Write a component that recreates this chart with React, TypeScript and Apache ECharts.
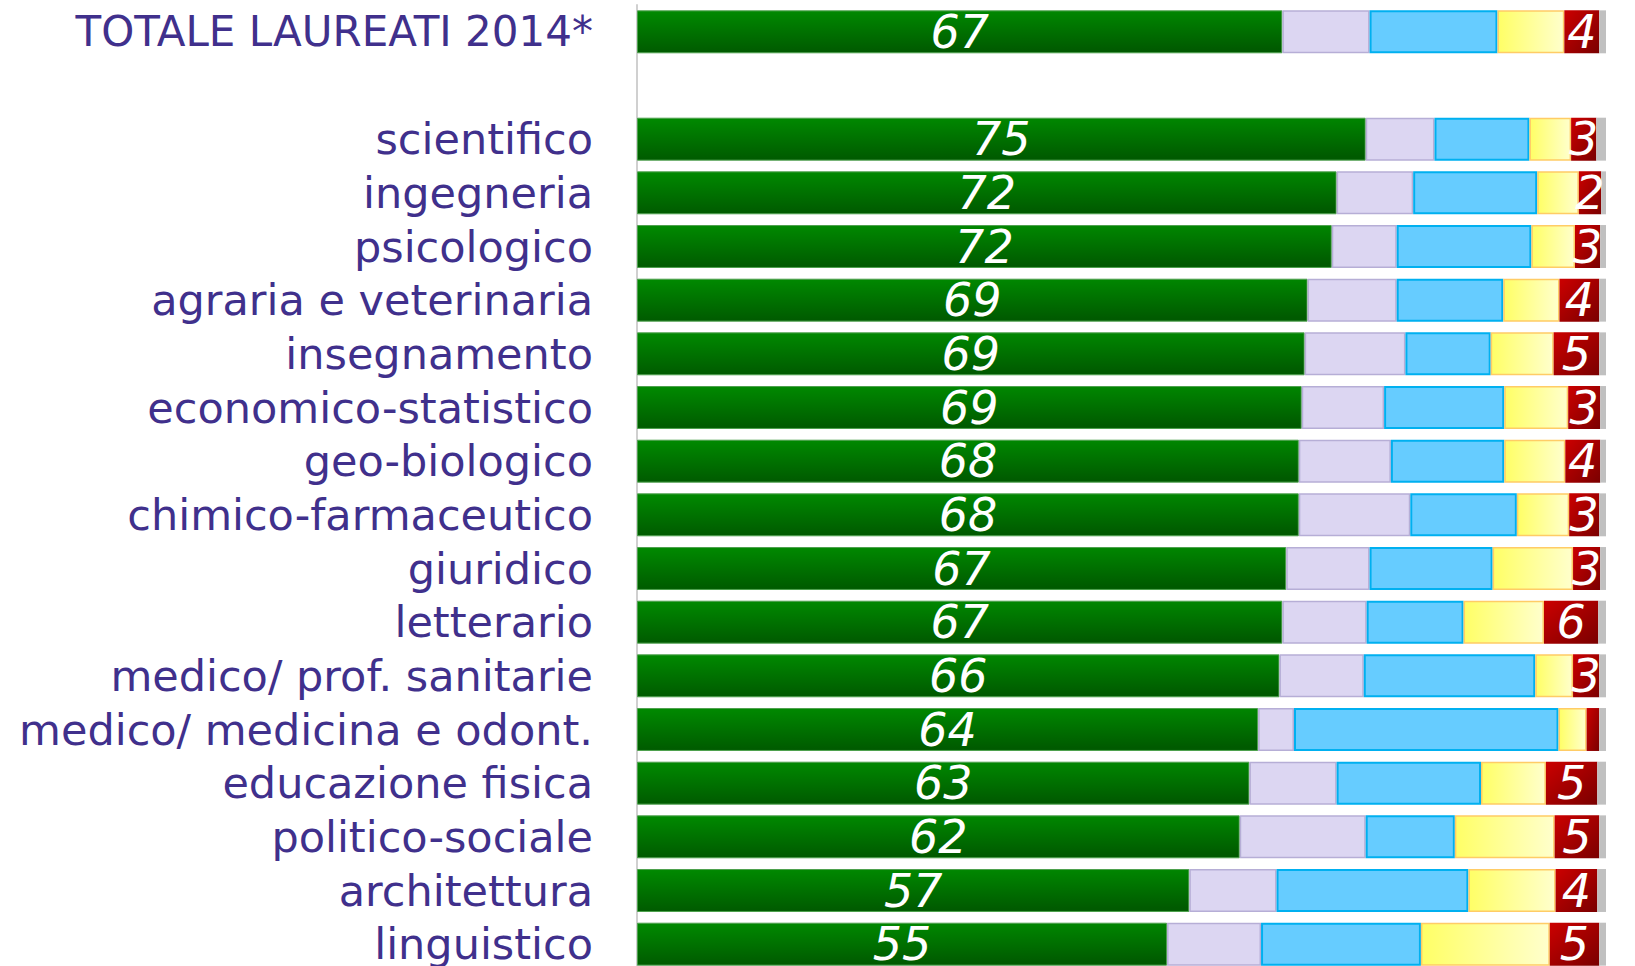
import React, { useEffect, useRef } from 'react';
import * as echarts from 'echarts';

const categories = [
  'TOTALE LAUREATI 2014*',
  '',
  'scientifico',
  'ingegneria',
  'psicologico',
  'agraria e veterinaria',
  'insegnamento',
  'economico-statistico',
  'geo-biologico',
  'chimico-farmaceutico',
  'giuridico',
  'letterario',
  'medico/ prof. sanitarie',
  'medico/ medicina e odont.',
  'educazione fisica',
  'politico-sociale',
  'architettura',
  'linguistico',
];

const seriesNames = [
  'sì, stesso corso stesso ateneo',
  'sì, stesso corso altro ateneo',
  'sì, altro corso stesso ateneo',
  'sì, altro corso altro ateneo',
  'non si iscriverebbero più',
  'non rispondono',
];

const green = [66.6, '-', 75.2, 72.2, 71.7, 69.2, 68.9, 68.6, 68.3, 68.3, 67.0, 66.6, 66.3, 64.1, 63.2, 62.2, 57.0, 54.7];
const lavender = [9.0, '-', 7.1, 7.9, 6.7, 9.2, 10.4, 8.5, 9.5, 11.5, 8.6, 8.7, 8.7, 3.7, 9.0, 13.0, 9.0, 9.7];
const blue = [13.2, '-', 9.8, 12.8, 13.9, 11.0, 8.8, 12.4, 11.7, 11.0, 12.7, 10.0, 17.7, 27.3, 14.9, 9.2, 19.8, 16.5];
const yellow = [6.9, '-', 4.3, 4.3, 4.5, 5.8, 6.5, 6.6, 6.3, 5.4, 8.3, 8.3, 3.9, 2.9, 6.7, 10.3, 9.0, 13.3];
const red = [3.6, '-', 2.6, 2.3, 2.6, 4.1, 4.7, 3.3, 3.6, 3.1, 2.8, 5.6, 2.7, 1.3, 5.3, 4.6, 4.3, 5.1];
const grey = [0.7, '-', 1.0, 0.5, 0.6, 0.7, 0.7, 0.6, 0.6, 0.7, 0.6, 0.8, 0.7, 0.7, 0.9, 0.7, 0.9, 0.7];

export default function App() {
  const ref = useRef<HTMLDivElement>(null);

  useEffect(() => {
    if (!ref.current) return;
    const chart = echarts.init(ref.current, null, { renderer: 'svg' });

    const valueLabel = (minShow: number) => ({
      show: true,
      position: 'inside' as const,
      color: '#ffffff',
      fontStyle: 'italic' as const,
      fontFamily: 'DejaVu Sans',
      fontSize: 46,
      formatter: (p: any) => {
        const v = Number(p.value);
        if (!isFinite(v) || v < minShow) return '';
        return String(Math.round(v));
      },
    });

    const base = {
      type: 'bar' as const,
      stack: 'tot',
      barCategoryGap: '20%',
    };

    chart.setOption({
      animation: false,
      grid: { left: 637, right: 29, top: 5, bottom: 9, containLabel: false },
      xAxis: { type: 'value', min: 0, max: 100, show: false },
      yAxis: {
        type: 'category',
        inverse: true,
        data: categories,
        axisTick: { show: false },
        axisLine: { show: true, lineStyle: { color: '#d0d0d0', width: 2 } },
        splitLine: { show: false },
        axisLabel: {
          interval: 0,
          hideOverlap: false,
          color: '#40308c',
          fontSize: 43,
          fontFamily: 'DejaVu Sans',
          margin: 44,
          formatter: (v: string, i: number) => (i === 0 ? `{tot|${v}}` : v),
          rich: {
            tot: { color: '#40308c', fontSize: 42, fontFamily: 'DejaVu Sans' },
          },
        },
      },
      series: [
        {
          ...base,
          name: seriesNames[0],
          data: green,
          itemStyle: {
            color: new echarts.graphic.LinearGradient(0, 0, 0.1, 1, [
              { offset: 0, color: '#008a00' },
              { offset: 1, color: '#005a00' },
            ]),
            borderColor: '#4da04d',
            borderWidth: 1,
          },
          label: valueLabel(0),
        },
        {
          ...base,
          name: seriesNames[1],
          data: lavender,
          itemStyle: { color: '#dcd6f2', borderColor: '#b6aed6', borderWidth: 1.5 },
        },
        {
          ...base,
          name: seriesNames[2],
          data: blue,
          itemStyle: { color: '#66ccff', borderColor: '#00b0f0', borderWidth: 2 },
        },
        {
          ...base,
          name: seriesNames[3],
          data: yellow,
          itemStyle: {
            color: new echarts.graphic.LinearGradient(0, 0, 1, 0, [
              { offset: 0, color: '#ffff66' },
              { offset: 1, color: '#ffffcc' },
            ]),
            borderColor: '#ffcc66',
            borderWidth: 1.5,
          },
        },
        {
          ...base,
          name: seriesNames[4],
          data: red,
          itemStyle: {
            color: new echarts.graphic.LinearGradient(0, 0, 1, 1, [
              { offset: 0, color: '#cc0000' },
              { offset: 1, color: '#7a0000' },
            ]),
          },
          label: valueLabel(1.5),
        },
        {
          ...base,
          name: seriesNames[5],
          data: grey,
          itemStyle: { color: '#c0c0c0' },
        },
      ],
    });

    return () => chart.dispose();
  }, []);

  return (
    <div
      ref={ref}
      style={{ position: 'absolute', left: 0, top: 0, width: 1635, height: 980 }}
    />
  );
}
